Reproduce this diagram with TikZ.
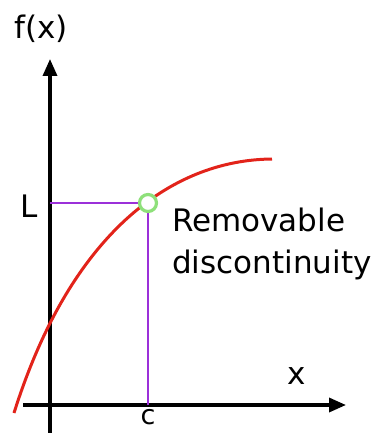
\documentclass[tikz,border=0pt]{standalone}
\usepackage{fontspec}
\setmainfont{DejaVu Sans}
\usetikzlibrary{arrows.meta, positioning}
\definecolor{curvered}{HTML}{E2231A}
\definecolor{guidepurple}{HTML}{9B30D9}
\definecolor{holegreen}{HTML}{8EE07A}

\tikzset{
  axis/.style={line width=3.4pt, -{Triangle[length=17pt, width=14pt]}},
  guide/.style={guidepurple, line width=2.6pt},
  graphcurve/.style={curvered, line width=3pt},
  hole/.style={circle, draw=holegreen, line width=3.2pt, fill=white, minimum size=17pt, inner sep=0pt},
  label/.style={font=\fontsize{31}{42}\selectfont, inner sep=0pt}
}

\begin{document}
\begin{tikzpicture}[x=1pt, y=-1pt]
\useasboundingbox (0,0) rectangle (381,433);

% axes
\coordinate (ybot) at (50,433);
\coordinate (ytop) at (50,59);
\coordinate (xleft) at (23,405);
\coordinate (xright) at (346,405);
\draw[axis] (ybot) -- (ytop);
\draw[axis] (xleft) -- (xright);

% guide lines
\coordinate (Ly) at (50,203);
\coordinate (cx) at (148,405);
\coordinate (pt) at (148,203);
\draw[guide] (Ly) -- (pt) -- (cx);

% the function
\coordinate (fstart) at (14,413);
\coordinate (fend) at (272,159);
\draw[graphcurve] (fstart) .. controls (70,235) and (170,160) .. (fend);

\node[hole] (hole) at (pt) {};

% labels
\node[label] (fx) at (41,29) {f(x)};
\node[label] (L) at (29,206) {L};
\node[label, anchor=north, font=\fontsize{27}{32}\selectfont] (c) at (148,409) {c};
\node[label] (x) at (297,376) {x};
\node[label, align=left, anchor=north west] (rem) at (172,208) {Removable\\discontinuity};
\end{tikzpicture}
\end{document}
